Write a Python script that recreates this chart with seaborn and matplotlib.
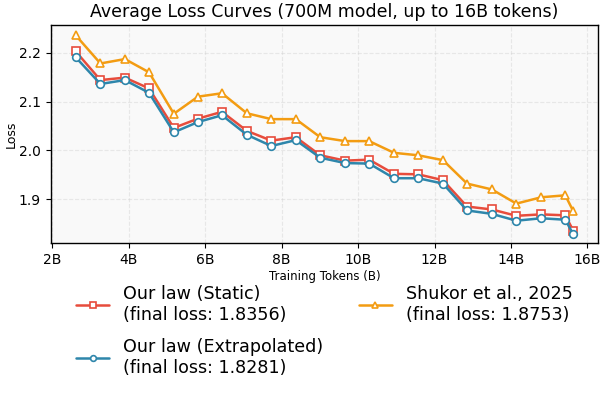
import numpy as np
import pandas as pd
import matplotlib
matplotlib.use("Agg")
import matplotlib.pyplot as plt
import seaborn as sns

# Training tokens (in billions) at each evaluation point
tokens_b = [2.61, 3.26, 3.90, 4.53, 5.18, 5.81, 6.44, 7.09, 7.73, 8.37, 9.01,
            9.66, 10.29, 10.94, 11.57, 12.22, 12.85, 13.50, 14.14, 14.79, 15.42, 15.63]

# Average loss per method
loss_static = [2.203, 2.144, 2.149, 2.127, 2.046, 2.065, 2.079, 2.040, 2.020, 2.027, 1.990,
               1.979, 1.981, 1.952, 1.951, 1.939, 1.885, 1.879, 1.866, 1.869, 1.867, 1.8356]
loss_extrap = [2.191, 2.136, 2.144, 2.118, 2.037, 2.058, 2.072, 2.032, 2.009, 2.021, 1.985,
               1.974, 1.973, 1.943, 1.943, 1.932, 1.877, 1.870, 1.856, 1.861, 1.858, 1.8281]
loss_shukor = [2.236, 2.178, 2.187, 2.160, 2.075, 2.110, 2.117, 2.076, 2.064, 2.064, 2.027,
               2.019, 2.019, 1.995, 1.990, 1.980, 1.932, 1.920, 1.891, 1.904, 1.908, 1.8753]

series_names = ["Our law (Static)", "Our law (Extrapolated)", "Shukor et al., 2025"]
x_ticks = [2, 4, 6, 8, 10, 12, 14, 16]
x_tick_labels = ["2B", "4B", "6B", "8B", "10B", "12B", "14B", "16B"]

sns.set_style("ticks")
plt.rcParams["font.family"] = ["DejaVu Sans"]
plt.rcParams["text.color"] = "black"
plt.rcParams["axes.labelcolor"] = "black"
plt.rcParams["xtick.color"] = "black"
plt.rcParams["ytick.color"] = "black"

fig = plt.figure(figsize=(6.07, 4.08), dpi=100)
ax = fig.add_axes([0.0835, 0.404, 0.902, 0.535])
ax.set_facecolor("#f9f9f9")

styles = [
    (loss_static, "#e74c3c", "s"),
    (loss_extrap, "#2e86ab", "o"),
    (loss_shukor, "#f39c12", "^"),
]

for name, (vals, color, marker) in zip(series_names, styles):
    df = pd.DataFrame({"tokens": tokens_b, "loss": vals})
    final = vals[-1]
    sns.lineplot(data=df, x="tokens", y="loss", ax=ax, color=color, marker=marker,
                 markersize=5.5, markerfacecolor="white", markeredgecolor=color,
                 markeredgewidth=1.2, linewidth=1.8,
                 label=f"{name}\n(final loss: {final:.4f})")

ax.set_xticks(x_ticks)
ax.set_xticklabels(x_tick_labels, fontsize=10)
ax.set_yticks([1.9, 2.0, 2.1, 2.2])
ax.tick_params(axis="y", labelsize=10)
ax.set_ylim(1.81, 2.257)
ax.grid(True, linestyle="--", alpha=0.4)
for s in ax.spines.values():
    s.set_color("black")
    s.set_linewidth(1.0)

ax.set_title("Average Loss Curves (700M model, up to 16B tokens)", fontsize=12.5)
ax.set_xlabel("Training Tokens (B)", fontsize=8.5, labelpad=2)
ax.set_ylabel("Loss", fontsize=9, labelpad=1)

ax.legend(loc="upper center", bbox_to_anchor=(0.5, -0.12), ncol=2, frameon=False,
          fontsize=12.6, handlelength=1.9, columnspacing=2.0, labelspacing=0.8,
          markerscale=0.75)

fig.savefig("out.png", dpi=100)
